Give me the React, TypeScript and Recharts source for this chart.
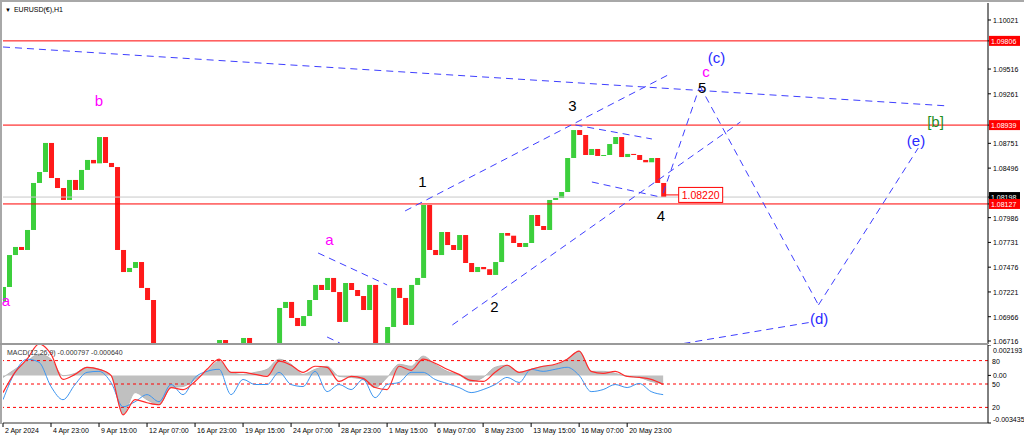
import React from 'react';
import {
  ComposedChart, Bar, Line, Area, XAxis, YAxis, ReferenceLine, ReferenceDot,
} from 'recharts';

// H1 bars, one price sample every 8 bars, one MACD sample every 16 bars
const PRICE_STEP = 8;
const MACD_STEP = 16;
const FIRST_OPEN = 1.0712;

const closes = [
  1.07272, 1.07601, 1.07684, 1.07653, 1.07859, 1.08343, 1.08456, 1.08755, 1.08394, 1.08291,
  1.08168, 1.08374, 1.08271, 1.08477, 1.0858, 1.08545, 1.08816, 1.08549, 1.08507, 1.07653,
  1.07426, 1.07468, 1.07529, 1.07262, 1.07138, 1.0652, 1.06314, 1.06211, 1.06263, 1.06211,
  1.06263, 1.06314, 1.06366, 1.06417, 1.0652, 1.06675, 1.06726, 1.06623, 1.06648, 1.06675,
  1.06747, 1.06644, 1.06572, 1.06603, 1.06623, 1.06675, 1.07056, 1.07118, 1.06953, 1.0687,
  1.06973, 1.07138, 1.07293, 1.07241, 1.07365, 1.0722, 1.06912, 1.07313, 1.07241, 1.07179,
  1.07035, 1.07293, 1.06695, 1.06623, 1.0686, 1.07262, 1.07159, 1.06881, 1.07293, 1.07365,
  1.08116, 1.07653, 1.07601, 1.07838, 1.07704, 1.07653, 1.07807, 1.07519, 1.07426, 1.07478,
  1.07455, 1.07396, 1.07529, 1.07828, 1.078, 1.07725, 1.07684, 1.07725, 1.08013, 1.079,
  1.07859, 1.08168, 1.08188, 1.0825, 1.086, 1.08888, 1.08837, 1.08631, 1.08693, 1.08621,
  1.08631, 1.08744, 1.08816, 1.0861, 1.08642, 1.08631, 1.0858, 1.08556, 1.086, 1.08343,
  1.08198,
];

// MACD panel values in millionths
const macdMain = [
  -146, 439, 1024, 1535, 1170, -20, 146, 585, 439, -30, -2777, -1242, -1754, -2119, -877, -804,
  -292, 293, 1024, 219, 73, 219, 439, 1170, 804, 73, 439, 658, -73, -146, -292, -877,
  -146, 804, 658, 1389, 804, 293, 20, -438, -146, 585, 731, 219, 439, 658, 731, 1170,
  1755, 293, 293, 146, -73, -146, -438, -584,
];
const macdSignal = [
  -1242, 219, 1170, 2266, 1535, -292, 73, 585, 439, 0, -2850, -1754, -1973, -2119, -877, -1023,
  -438, 439, 1170, 219, 219, 73, -73, 1024, 731, 219, 658, 585, -438, -73, -219, -877,
  -1023, 658, 366, 1170, 877, 439, 73, -365, -438, 219, 731, 219, 439, 658, 804, 1170,
  1755, 293, 146, 293, -73, -146, -292, -658,
];
const macdFast = [
  -1754, 219, 1170, 950, -804, -1754, -658, 219, 293, -511, -2265, -1900, -1388, -1900, -658, -1388,
  -146, 293, 439, -1388, -292, -658, -658, 219, -658, -804, 293, -1169, -658, -1023, -292, -1608,
  -658, -511, 219, 219, -292, -584, -877, -1242, -1023, -658, -146, -511, 439, 293, 439, 585,
  0, -1169, -1023, -658, -877, -584, -1169, -1388,
];

const timeTicks = [0, 64, 128, 192, 256, 320, 384, 448, 512, 576, 640, 704, 768, 832];
const timeLabels = [
  '2 Apr 2024', '4 Apr 23:00', '9 Apr 15:00', '12 Apr 07:00', '16 Apr 23:00', '19 Apr 15:00',
  '24 Apr 07:00', '28 Apr 23:00', '1 May 15:00', '6 May 07:00', '8 May 23:00', '13 May 15:00',
  '16 May 07:00', '20 May 23:00',
];

const priceTicks = [1.10021, 1.09516, 1.09261, 1.08751, 1.08496, 1.07986, 1.07731, 1.07476, 1.07221, 1.06966, 1.06716];
const priceMarks = [
  { price: 1.09806, bg: '#ff0000' },
  { price: 1.08939, bg: '#ff0000' },
  { price: 1.08198, bg: '#000000' },
  { price: 1.08127, bg: '#ff0000' },
];
// oscillator levels (0..100 scale shares the MACD panel height)
const oscLevels = [80, 50, 20];
const MACD_MIN = -0.003435;
const MACD_MAX = 0.002193;
const oscToMacd = (lv: number) => MACD_MIN + (lv / 100) * (MACD_MAX - MACD_MIN);

// dashed wave lines: [bar1, price1, bar2, price2]
const waveLines = [
  [0, 1.09743, 1260, 1.09136],
  [536, 1.08055, 889, 1.09465],
  [599, 1.06881, 983, 1.08971],
  [763, 1.0894, 865, 1.08796],
  [785, 1.08353, 876, 1.08199],
  [880, 1.0824, 929, 1.09342],
  [929, 1.09342, 1087, 1.07087],
  [1087, 1.07087, 1220, 1.08703],
  [907, 1.0669, 1079, 1.06912],
  [420, 1.07622, 512, 1.07293],
  [432, 1.06757, 449, 1.06695],
];

const waveLabels = [
  { bar: 128, price: 1.09187, text: 'b', color: '#ff00ff' },
  { bar: 4, price: 1.07138, text: 'a', color: '#ff00ff' },
  { bar: 435, price: 1.07766, text: 'a', color: '#ff00ff' },
  { bar: 559, price: 1.08363, text: '1', color: '#000' },
  { bar: 655, price: 1.07076, text: '2', color: '#000' },
  { bar: 759, price: 1.09136, text: '3', color: '#000' },
  { bar: 877, price: 1.08003, text: '4', color: '#000' },
  { bar: 932, price: 1.09331, text: '5', color: '#000' },
  { bar: 937, price: 1.09486, text: 'c', color: '#ff00ff' },
  { bar: 951, price: 1.0964, text: '(c)', color: '#2a2aff' },
  { bar: 1243, price: 1.08971, text: '[b]', color: '#1f8f1f' },
  { bar: 1217, price: 1.08785, text: '(e)', color: '#2a2aff' },
  { bar: 1088, price: 1.06943, text: '(d)', color: '#2a2aff' },
];

const CALLOUT = { bar: 930, price: 1.0822 };

const candles = closes.map((c, i) => ({
  t: i * PRICE_STEP,
  open: i ? closes[i - 1] : FIRST_OPEN,
  close: c,
}));

const macdData = macdMain.map((m, i) => ({
  t: i * MACD_STEP,
  main: m / 1e6,
  signal: macdSignal[i] / 1e6,
  fast: macdFast[i] / 1e6,
}));

const X_DOMAIN = [0, 1313];
const FONT = '"Liberation Sans", Arial, sans-serif';

function Candle(props: any) {
  const { x, y, width, height, payload } = props;
  if (x == null || y == null) return null;
  const top = height < 0 ? y + height : y;
  const h = Math.max(Math.abs(height || 0), 1);
  const up = payload.close >= payload.open;
  return <rect x={x} y={top} width={width} height={h} fill={up ? '#3ccf3c' : '#ff1a1a'} />;
}

function PriceTick(props: any) {
  const { x, y, payload } = props;
  const mark = priceMarks.find((m) => m.price === payload.value);
  const label = payload.value.toFixed(5);
  if (mark) {
    return (
      <g>
        <rect x={x - 4} y={y - 5} width={31} height={10} fill={mark.bg} />
        <text x={x - 2} y={y + 3} fill="#fff" fontSize={7} fontFamily={FONT}>{label}</text>
      </g>
    );
  }
  return <text x={x} y={y + 3} fill="#000" fontSize={7} fontFamily={FONT}>{label}</text>;
}

function MacdTick(props: any) {
  const { x, y, payload } = props;
  const v = payload.value;
  const dy = v > 0.002 ? 8 : v < -0.003 ? -1 : 3;
  const label = v === 0 ? '0.00' : v.toFixed(6);
  return <text x={x} y={y + dy} fill="#000" fontSize={7} fontFamily={FONT}>{label}</text>;
}

function TimeTick(props: any) {
  const { x, y, payload } = props;
  const idx = timeTicks.indexOf(payload.value);
  return (
    <g>
      <line x1={x} x2={x} y1={y - 2} y2={y + 2} stroke="#000" />
      <text x={x + 2} y={y + 8} fill="#000" fontSize={7} fontFamily={FONT}>{timeLabels[idx]}</text>
    </g>
  );
}

function levelLabel(lv: number) {
  return (props: any) => {
    const vb = props.viewBox || props;
    return (
      <text x={vb.x + vb.width + 4} y={vb.y + 3} fill="#000" fontSize={7} fontFamily={FONT}>{lv}</text>
    );
  };
}

export default function App() {
  return (
    <div style={{ position: 'fixed', left: 0, top: 0, width: 1024, height: 441, background: '#fff', overflow: 'hidden', fontFamily: FONT }}>
      {/* price panel */}
      <div style={{ position: 'absolute', left: 0, top: 0 }}>
        <ComposedChart width={1024} height={344} data={candles} margin={{ top: 3, right: 0, left: 3, bottom: 0 }}>
          <XAxis type="number" dataKey="t" domain={X_DOMAIN} hide allowDataOverflow />
          <YAxis
            orientation="right" width={36} domain={[1.06685, 1.10196]} allowDataOverflow
            ticks={[...priceTicks, ...priceMarks.map((m) => m.price)]} interval={0}
            tick={<PriceTick />} tickSize={3} tickLine={{ stroke: '#000' }} axisLine={{ stroke: '#000' }}
          />
          <ReferenceLine y={1.08198} stroke="#c8c8c8" />
          {priceMarks.filter((m) => m.bg !== '#000000').map((m) => (
            <ReferenceLine key={m.price} y={m.price} stroke="#ff0000" />
          ))}
          <Bar dataKey={(d: any) => [Math.min(d.open, d.close), Math.max(d.open, d.close)]} barSize={5} shape={<Candle />} isAnimationActive={false} />
          {waveLines.map((s, i) => (
            <ReferenceLine
              key={i}
              segment={[{ x: s[0], y: s[1] }, { x: s[2], y: s[3] }]}
              stroke="#3f3fff" strokeDasharray="7 5" ifOverflow="visible"
            />
          ))}
          {waveLabels.map((w, i) => (
            <ReferenceDot
              key={i} x={w.bar} y={w.price} r={0}
              shape={(p: any) => (
                <text x={p.cx} y={p.cy} textAnchor="middle" dominantBaseline="central" fill={w.color} fontSize={15} fontFamily={FONT}>{w.text}</text>
              )}
            />
          ))}
          <ReferenceDot
            x={CALLOUT.bar} y={CALLOUT.price} r={0}
            shape={(p: any) => (
              <g>
                <line x1={p.cx - 35} x2={p.cx - 22} y1={p.cy} y2={p.cy} stroke="#ff0000" />
                <rect x={p.cx - 22} y={p.cy - 7.5} width={44} height={15} fill="#fff" stroke="#ff0000" />
                <text x={p.cx} y={p.cy} textAnchor="middle" dominantBaseline="central" fill="#ff0000" fontSize={10.5} fontFamily={FONT}>{CALLOUT.price.toFixed(5)}</text>
              </g>
            )}
          />
        </ComposedChart>
      </div>

      {/* MACD panel */}
      <div style={{ position: 'absolute', left: 0, top: 345 }}>
        <ComposedChart width={1024} height={96} data={macdData} margin={{ top: 0, right: 0, left: 3, bottom: 0 }}>
          <XAxis
            type="number" dataKey="t" domain={X_DOMAIN} allowDataOverflow height={18}
            ticks={timeTicks} interval={0} tick={<TimeTick />} tickLine={false} tickSize={0}
            axisLine={{ stroke: '#333' }}
          />
          <YAxis
            orientation="right" width={36} domain={[MACD_MIN, MACD_MAX]} allowDataOverflow
            ticks={[MACD_MAX, 0, MACD_MIN]} interval={0} tick={<MacdTick />}
            tickSize={3} tickLine={{ stroke: '#000' }} axisLine={{ stroke: '#000' }}
          />
          {oscLevels.map((lv) => (
            <ReferenceLine
              key={lv} y={oscToMacd(lv)} stroke="#ff0000" strokeDasharray="3 3"
              label={levelLabel(lv)}
            />
          ))}
          <Area type="monotone" dataKey="main" baseValue={0} fill="#c0c0c0" fillOpacity={1} stroke="#b8b8b8" isAnimationActive={false} />
          <Line type="monotone" dataKey="fast" stroke="#3d95f0" strokeWidth={1} dot={false} isAnimationActive={false} />
          <Line type="monotone" dataKey="signal" stroke="#ff2a2a" strokeWidth={1.2} dot={false} isAnimationActive={false} />
        </ComposedChart>
      </div>

      {/* frame */}
      <div style={{ position: 'absolute', left: 0, top: 0, width: 1024, height: 2, background: '#a8a8a8' }} />
      <div style={{ position: 'absolute', left: 0, top: 0, width: 2, height: 424, background: '#a8a8a8' }} />
      <div style={{ position: 'absolute', left: 0, top: 343, width: 988, height: 2, background: '#9a9a9a' }} />

      <div style={{ position: 'absolute', left: 5, top: 5, fontSize: 7, lineHeight: '9px', color: '#000', whiteSpace: 'nowrap' }}>
        <span style={{ fontSize: 6, marginRight: 3 }}>▼</span>EURUSD(€),H1
      </div>
      <div style={{ position: 'absolute', left: 7, top: 348, fontSize: 7, lineHeight: '9px', color: '#333', whiteSpace: 'nowrap' }}>
        MACD(12,26,9) -0.000797 -0.000640
      </div>
    </div>
  );
}
